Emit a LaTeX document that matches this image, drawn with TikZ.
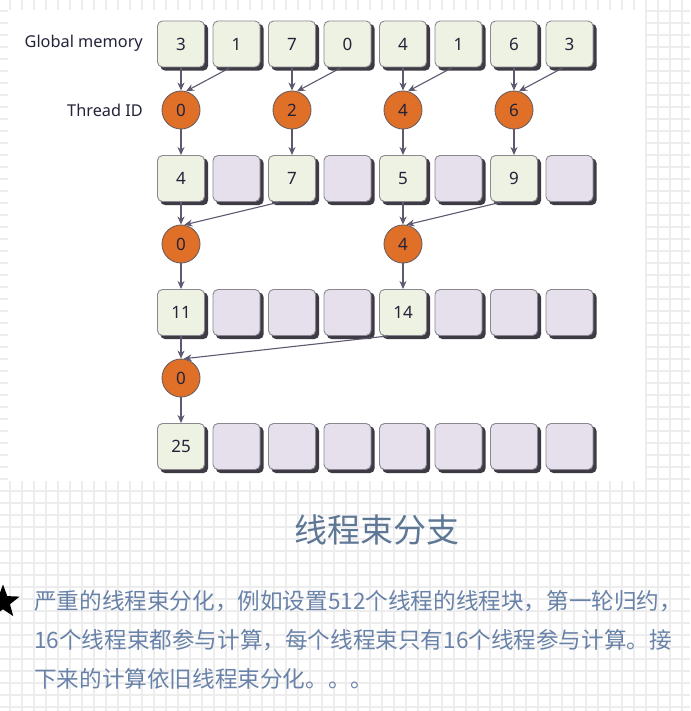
\documentclass[tikz,border=0pt]{standalone}
\usepackage{fontspec}
\setmainfont{Noto Sans}
\newfontfamily\cjk{Noto Sans CJK SC}
\usetikzlibrary{arrows.meta,calc,shapes.geometric,backgrounds}
\pgfdeclarelayer{gridlayer}
\pgfsetlayers{gridlayer,background,main}
\definecolor{gridc}{HTML}{EDEDED}
\definecolor{memfill}{HTML}{EEF2E3}
\definecolor{empfill}{HTML}{E6E0EC}
\definecolor{boxline}{HTML}{8A8790}
\definecolor{shadowc}{HTML}{3E3B45}
\definecolor{thrfill}{HTML}{E07028}
\definecolor{thrline}{HTML}{6E5E5E}
\definecolor{arrc}{HTML}{5F5870}
\definecolor{labc}{HTML}{23233A}
\definecolor{titlec}{HTML}{5E7795}
\definecolor{bodyc}{HTML}{6982A8}
\begin{document}
\begin{tikzpicture}[x=1pt,y=-1pt,
  cellbase/.style={draw=boxline, line width=0.9pt, rounded corners=5pt,
    minimum width=47pt, minimum height=46pt, inner sep=0pt,
    font=\fontsize{17}{20}\selectfont, text=labc},
  membox/.style={cellbase, fill=memfill},
  empbox/.style={cellbase, fill=empfill},
  shadowbox/.style={fill=shadowc, rounded corners=5pt},
  thr/.style={circle, draw=thrline, line width=0.9pt, fill=thrfill,
    minimum size=38pt, inner sep=0pt, font=\fontsize{17}{20}\selectfont, text=labc},
  lab/.style={anchor=east, font=\fontsize{16.3}{19}\selectfont, text=labc, inner sep=0pt},
  arr/.style={draw=arrc, line width=1.1pt, -{Stealth[length=8pt,width=7pt,inset=2.5pt]}},
  body/.style={anchor=west, font=\cjk\fontsize{22.6}{26}\selectfont, text=bodyc, inner sep=0pt}
]
\useasboundingbox (0,0) rectangle (690,711);
\begin{pgfonlayer}{gridlayer}
\fill[white] (0,0) rectangle (690,711);
\foreach \x in {10,22,...,690} \draw[gridc,line width=1.2pt] (\x,0) -- (\x,711);
\foreach \y in {11,23,...,711} \draw[gridc,line width=1.2pt] (0,\y) -- (690,\y);
\fill[white] (8,10) rectangle (645,481);
\end{pgfonlayer}

% labels
\node[lab] (glab) at (143,43) {Global memory};
\node[lab] (tlab) at (143,110) {Thread ID};

% row 1
\foreach \i/\v in {1/3,2/1,3/7,4/0,5/4,6/1,7/6,8/3}
  \node[membox] (a\i) at ({181+55.5*(\i-1)},44) {\v};
% row 2
\foreach \i/\v in {1/4,3/7,5/5,7/9}
  \node[membox] (b\i) at ({181+55.5*(\i-1)},178.5) {\v};
\foreach \i in {2,4,6,8}
  \node[empbox] (b\i) at ({181+55.5*(\i-1)},178.5) {};
% row 3
\node[membox] (c1) at (181,312.5) {11};
\node[membox] (c5) at ({181+55.5*4},312.5) {14};
\foreach \i in {2,3,4,6,7,8}
  \node[empbox] (c\i) at ({181+55.5*(\i-1)},312.5) {};
% row 4
\node[membox] (d1) at (181,446.5) {25};
\foreach \i in {2,...,8}
  \node[empbox] (d\i) at ({181+55.5*(\i-1)},446.5) {};

% shadows of the cells
\begin{scope}[on background layer]
\foreach \r in {a,b,c,d}
  \foreach \i in {1,...,8}
    \fill[shadowbox] ($(\r\i.south west)+(3.2,3.2)$) rectangle ($(\r\i.north east)+(3.2,3.2)$);
\end{scope}

% threads
\node[thr] (p1) at (181,110) {0};
\node[thr] (p2) at (292,110) {2};
\node[thr] (p3) at (403,110) {4};
\node[thr] (p4) at (514,110) {6};
\node[thr] (q1) at (181,244) {0};
\node[thr] (q2) at (403,244) {4};
\node[thr] (s1) at (181,378) {0};

% connectors, step 1
\draw[arr] (a1.south) -- (p1.north);
\draw[arr] ($(a2.south)+(-6,0)$) -- (p1.75);
\draw[arr] (a3.south) -- (p2.north);
\draw[arr] ($(a4.south)+(-6,0)$) -- (p2.75);
\draw[arr] (a5.south) -- (p3.north);
\draw[arr] ($(a6.south)+(-6,0)$) -- (p3.75);
\draw[arr] (a7.south) -- (p4.north);
\draw[arr] ($(a8.south)+(-6,0)$) -- (p4.75);
\draw[arr] (p1.south) -- (b1.north);
\draw[arr] (p2.south) -- (b3.north);
\draw[arr] (p3.south) -- (b5.north);
\draw[arr] (p4.south) -- (b7.north);
% step 2
\draw[arr] (b1.south) -- (q1.north);
\draw[arr] ($(b3.south)+(-12,0)$) -- (q1.80);
\draw[arr] (b5.south) -- (q2.north);
\draw[arr] ($(b7.south)+(-12,0)$) -- (q2.80);
\draw[arr] (q1.south) -- (c1.north);
\draw[arr] (q2.south) -- (c5.north);
% step 3
\draw[arr] (c1.south) -- (s1.north);
\draw[arr] ($(c5.south)+(-15,0)$) -- (s1.82);
\draw[arr] (s1.south) -- (d1.north);

% title and text
\node[font=\cjk\fontsize{33}{36}\selectfont, text=titlec, inner sep=0pt] (title) at (377,530) {线程束分支};
\node[star, star points=5, star point ratio=2.4, fill=black, minimum size=35pt, inner sep=0pt] (starmark) at (3,602) {};
\node[body] (l1) at (34,601) {严重的线程束分化，例如设置512个线程的线程块，第一轮归约，};
\node[body] (l2) at (34,640) {16个线程束都参与计算，每个线程束只有16个线程参与计算。接};
\node[body] (l3) at (34,679) {下来的计算依旧线程束分化。。。};
\end{tikzpicture}
\end{document}
